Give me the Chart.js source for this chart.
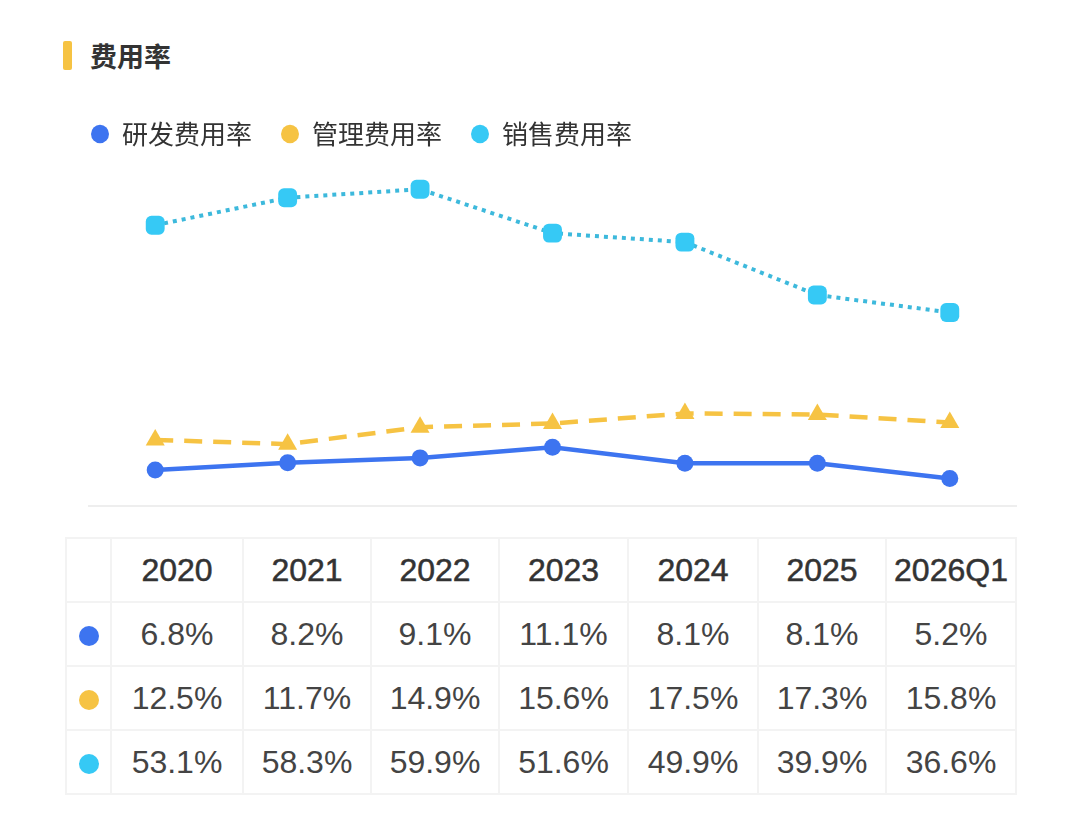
<!DOCTYPE html>
<html>
<head>
<meta charset="utf-8">
<script src="https://cdn.jsdelivr.net/npm/chart.js@4/dist/chart.umd.min.js"></script>
<style>
  html, body { margin: 0; padding: 0; background: #fff; }
  body { width: 1080px; height: 816px; position: relative; overflow: hidden; font-family: "Noto Sans CJK SC", sans-serif; }
  .title { position: absolute; left: 63px; top: 38px; height: 34px; display: flex; align-items: center; }
  .title .bar { width: 9px; height: 29px; background: #f6c343; border-radius: 2px; margin-right: 18px; }
  .title .txt { font-size: 27px; font-weight: 700; color: #333; }
  .chart-box { position: absolute; left: 0; top: 0; width: 1080px; height: 520px; }
  table { position: absolute; left: 65px; top: 537px; width: 950px; border-collapse: collapse; table-layout: fixed; }
  td { border: 2px solid #f3f3f3; height: 62px; text-align: center; font-family: "Liberation Sans", Arial, sans-serif; font-size: 32px; color: #444; padding: 0; }
  tr.head td { color: #333; -webkit-text-stroke: 0.5px #333; }
  .dot { display: inline-block; width: 20px; height: 20px; border-radius: 50%; vertical-align: middle; }
</style>
</head>
<body>
<div class="title"><div class="bar"></div><div class="txt">费用率</div></div>
<div class="chart-box"><canvas id="rateChart"></canvas></div>
<table id="rateTable"></table>
<script>
// 数据
const years = ['2020', '2021', '2022', '2023', '2024', '2025', '2026Q1'];
const seriesNames = ['研发费用率', '管理费用率', '销售费用率'];
const rdRate = [6.8, 8.2, 9.1, 11.1, 8.1, 8.1, 5.2];
const mgmtRate = [12.5, 11.7, 14.9, 15.6, 17.5, 17.3, 15.8];
const salesRate = [53.1, 58.3, 59.9, 51.6, 49.9, 39.9, 36.6];

const BLUE = '#3d74f0';
const YELLOW = '#f6c343';
const CYAN = '#36c9f5';

// Line chart
const ctx = document.getElementById('rateChart').getContext('2d');
const rateChart = new Chart(ctx, {
    type: 'line',
    data: {
        labels: years,
        datasets: [{
            label: seriesNames[0],
            data: rdRate,
            borderColor: BLUE,
            backgroundColor: BLUE,
            borderWidth: 4.5,
            pointStyle: 'circle',
            pointRadius: 8.5,
            pointBorderWidth: 0,
            order: 3
        }, {
            label: seriesNames[1],
            data: mgmtRate,
            borderColor: YELLOW,
            backgroundColor: YELLOW,
            borderWidth: 4.5,
            borderDash: [18, 11],
            pointStyle: 'triangle',
            pointRadius: 11,
            pointBorderWidth: 0,
            order: 2
        }, {
            label: seriesNames[2],
            data: salesRate,
            borderColor: '#3db9dc',
            backgroundColor: CYAN,
            borderWidth: 4,
            borderDash: [4, 5],
            pointStyle: 'rectRounded',
            pointRadius: 11,
            pointBorderWidth: 0,
            order: 1
        }]
    },
    options: {
        responsive: true,
        maintainAspectRatio: false,
        animation: false,
        layout: { padding: { left: 62, right: 64, top: 92, bottom: 6 } },
        plugins: {
            tooltip: { enabled: false },
            legend: {
                display: true,
                position: 'top',
                align: 'start',
                labels: {
                    usePointStyle: true,
                    pointStyle: 'circle',
                    pointStyleWidth: 18,
                    boxHeight: 13,
                    padding: 29,
                    color: '#333',
                    font: { size: 26, family: '"Noto Sans CJK SC", sans-serif' },
                    generateLabels: chart => chart.data.datasets.map((ds, i) => ({
                        text: ds.label,
                        fillStyle: ds.backgroundColor,
                        strokeStyle: ds.backgroundColor,
                        lineWidth: 0,
                        pointStyle: 'circle',
                        hidden: false,
                        datasetIndex: i,
                        fontColor: '#333'
                    }))
                }
            }
        },
        scales: {
            x: {
                offset: true,
                grid: { display: false },
                ticks: { display: false },
                border: { display: true, color: '#eeeeee', width: 2 }
            },
            y: {
                min: 0,
                max: 66,
                grid: { display: false },
                ticks: { display: false },
                border: { display: false },
                afterFit: scale => { scale.width = 27; }
            }
        }
    }
});

// Table below the chart
const table = document.getElementById('rateTable');
const rowColors = [BLUE, YELLOW, CYAN];
const rowData = [rdRate, mgmtRate, salesRate];

const colgroup = document.createElement('colgroup');
[45, 132, 128, 128, 129, 130, 128, 130].forEach(w => {
    const col = document.createElement('col');
    col.style.width = w + 'px';
    colgroup.appendChild(col);
});
table.appendChild(colgroup);

const head = document.createElement('tr');
head.className = 'head';
head.appendChild(document.createElement('td'));
years.forEach(y => {
    const td = document.createElement('td');
    td.textContent = y;
    head.appendChild(td);
});
table.appendChild(head);

rowData.forEach((values, r) => {
    const tr = document.createElement('tr');
    const first = document.createElement('td');
    const dot = document.createElement('span');
    dot.className = 'dot';
    dot.style.background = rowColors[r];
    first.appendChild(dot);
    tr.appendChild(first);
    values.forEach(v => {
        const td = document.createElement('td');
        td.textContent = v.toFixed(1) + '%';
        tr.appendChild(td);
    });
    table.appendChild(tr);
});
</script>
</body>
</html>
